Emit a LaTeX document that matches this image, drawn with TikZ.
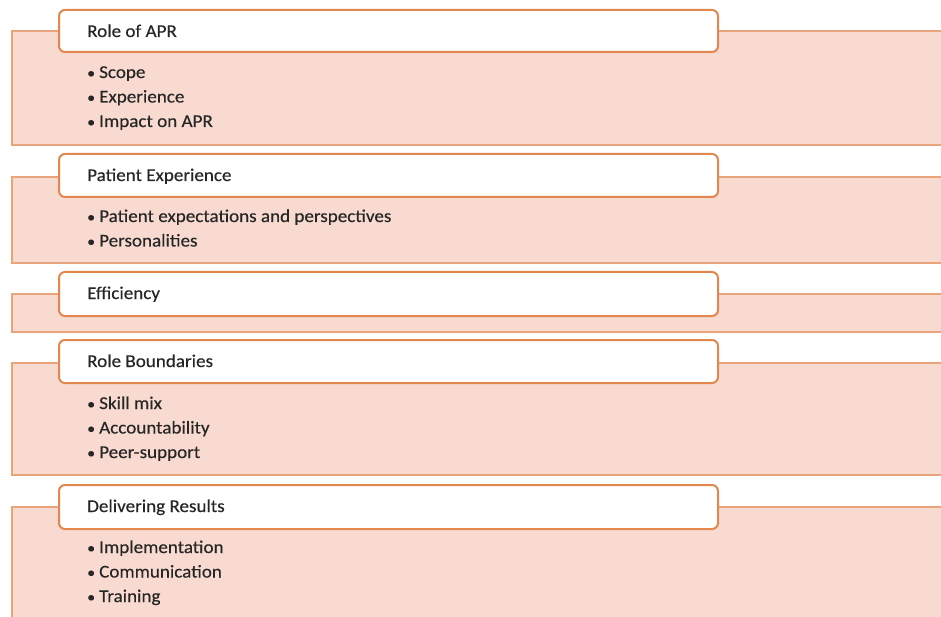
\documentclass[tikz,border=0pt]{standalone}
\usepackage{fontspec}
\setmainfont{Carlito}[FakeStretch=1.06,FakeBold=0.3]
\definecolor{panelfill}{HTML}{F8DAD0}
\definecolor{panelline}{HTML}{EAA47C}
\definecolor{headline}{HTML}{E2884E}
\definecolor{txt}{HTML}{262626}
\newcommand{\bul}{\makebox[12pt][l]{\fontsize{15}{18}\selectfont•}}
\begin{document}
\begin{tikzpicture}[x=1pt,y=-1pt,
  panel/.style={fill=panelfill,draw=panelline,line width=1.6pt},
  header/.style={fill=white,draw=headline,line width=2pt,rounded corners=6pt},
  htext/.style={anchor=base west,inner sep=0pt,text=txt,font=\fontsize{18}{21}\selectfont},
  item/.style={anchor=base west,inner sep=0pt,text=txt,font=\fontsize{18}{21}\selectfont}]
\useasboundingbox (0,0) rectangle (941,617);
\fill[white] (0,0) rectangle (941,617);
\begin{scope}
\clip (0,0) rectangle (941,617);
% panels
\path[panel] (12,31) rectangle (960,145);
\path[panel] (12,177) rectangle (960,263);
\path[panel] (12,294) rectangle (960,332);
\path[panel] (12,363) rectangle (960,475);
\path[panel] (12,507) rectangle (960,640);
% headers
\path[header] (59,10) rectangle (718,52);
\path[header] (59,154) rectangle (718,197);
\path[header] (59,272) rectangle (718,316);
\path[header] (59,340) rectangle (718,383);
\path[header] (59,485) rectangle (718,529);
\end{scope}
% header texts
\node[htext] (h1) at (87,37) {Role of APR};
\node[htext] (h2) at (87,181) {Patient Experience};
\node[htext] (h3) at (87,299) {Efficiency};
\node[htext] (h4) at (87,367) {Role Boundaries};
\node[htext] (h5) at (87,512) {Delivering Results};
% items
\node[item] (a1) at (87,78) {\bul Scope};
\node[item] (a2) at (87,102.5) {\bul Experience};
\node[item] (a3) at (87,127) {\bul Impact on APR};
\node[item] (b1) at (87,222) {\bul Patient expectations and perspectives};
\node[item] (b2) at (87,246.5) {\bul Personalities};
\node[item] (d1) at (87,409) {\bul Skill mix};
\node[item] (d2) at (87,433.5) {\bul Accountability};
\node[item] (d3) at (87,458) {\bul Peer-support};
\node[item] (e1) at (87,553) {\bul Implementation};
\node[item] (e2) at (87,577.5) {\bul Communication};
\node[item] (e3) at (87,602) {\bul Training};
\end{tikzpicture}
\end{document}
